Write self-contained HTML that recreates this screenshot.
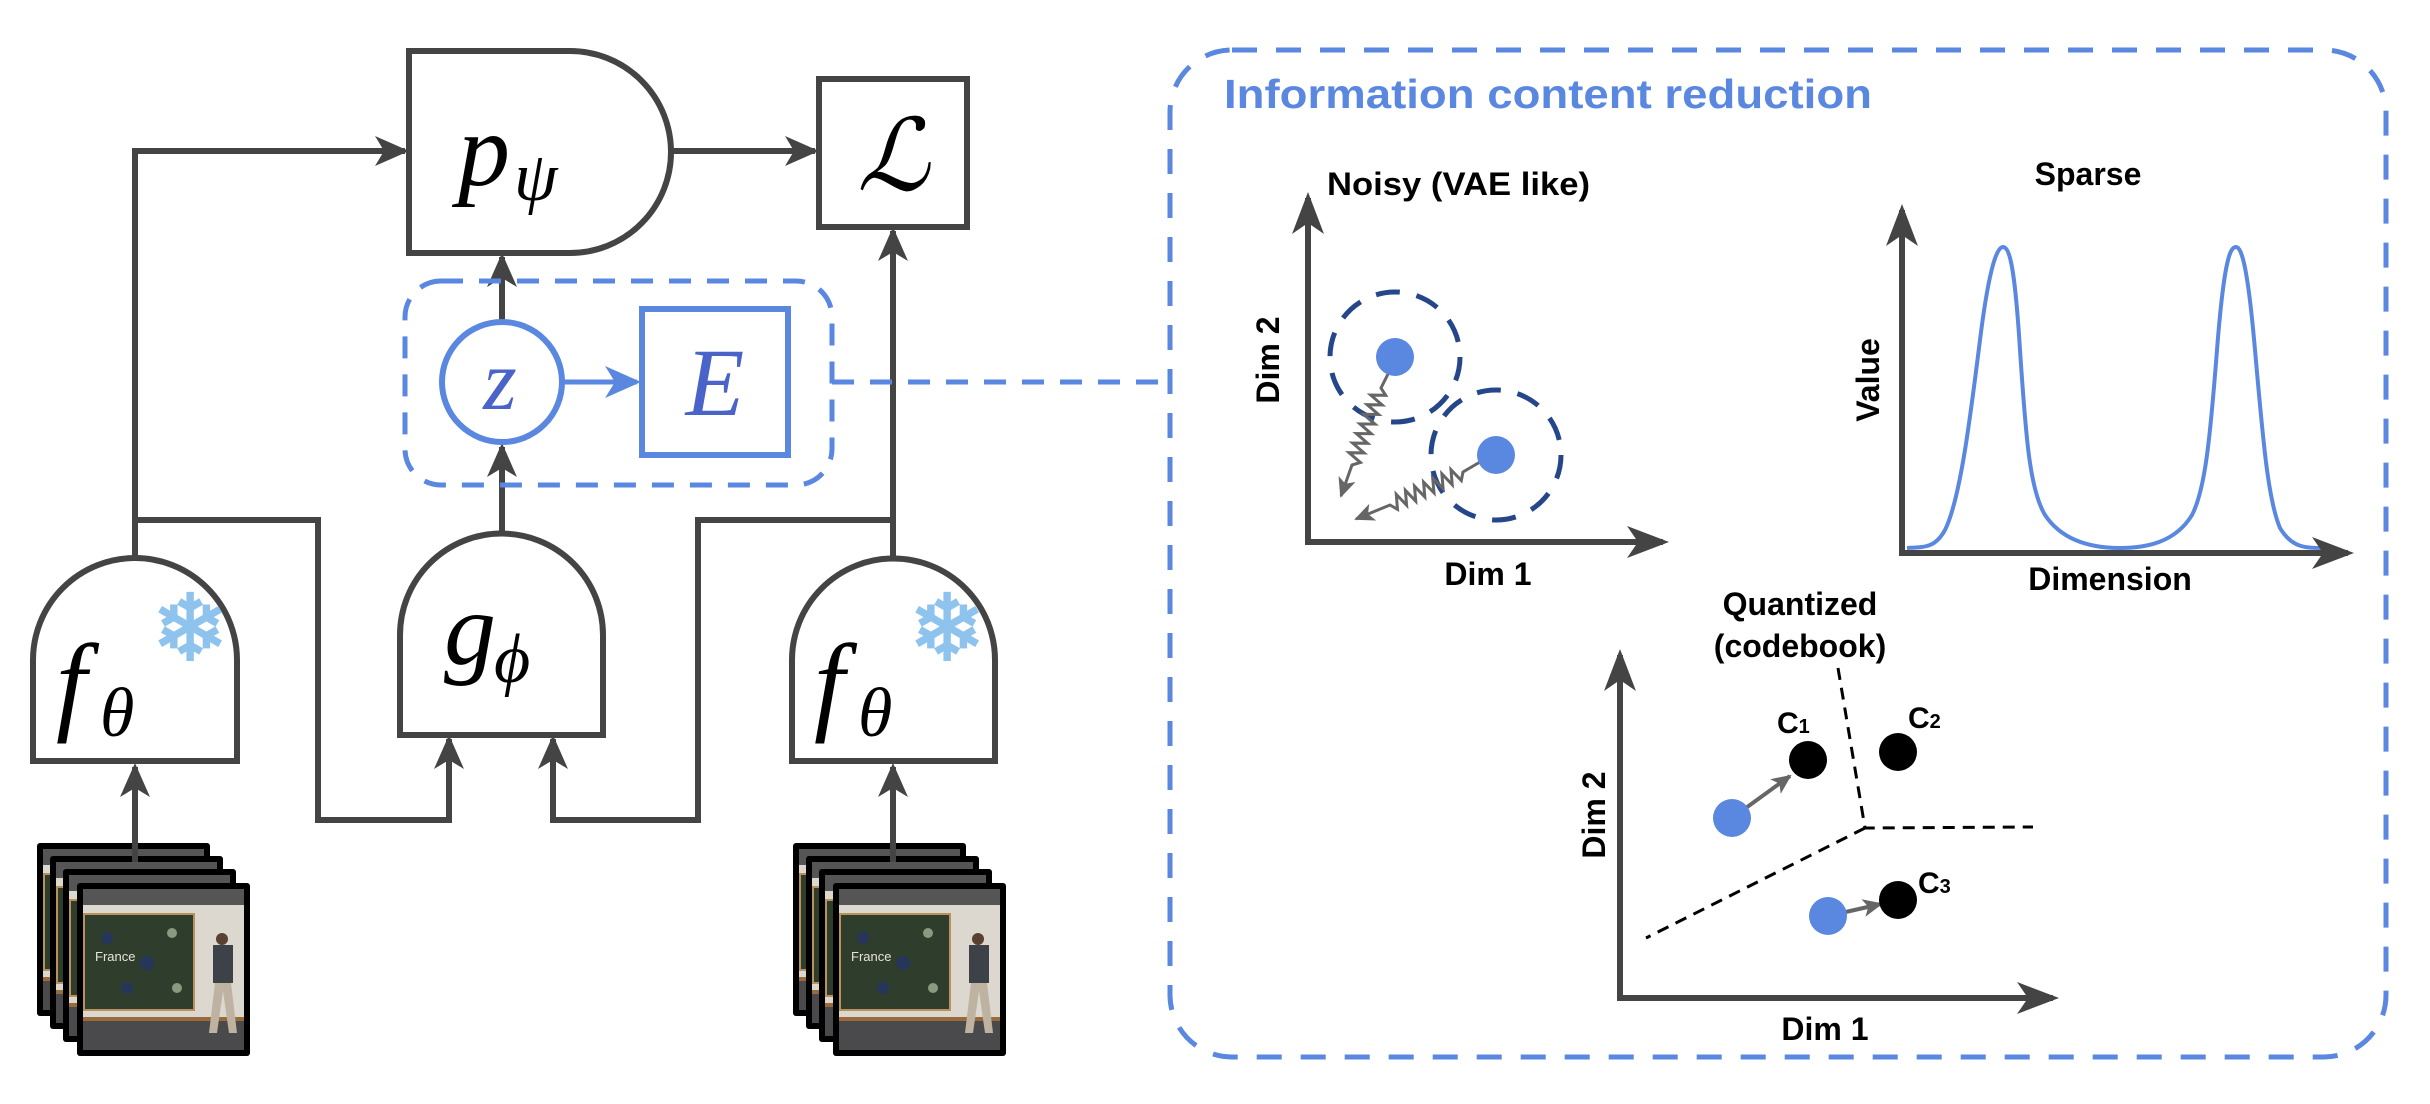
<!DOCTYPE html>
<html><head><meta charset="utf-8"><style>
html,body{margin:0;padding:0;background:#fff;}
svg{display:block;}
.b{font-family:"Liberation Sans",sans-serif;font-weight:bold;fill:#000;}
.m{font-family:"Liberation Serif",serif;font-style:italic;}
</style></head><body>
<svg width="2430" height="1104" viewBox="0 0 2430 1104" xmlns="http://www.w3.org/2000/svg">
<defs>
<marker id="ah" markerUnits="userSpaceOnUse" markerWidth="36" markerHeight="32" refX="30" refY="15" orient="auto"><path d="M0,0 L34,15 L0,30 L9,15 Z" fill="#444"/></marker>
<marker id="ab" markerUnits="userSpaceOnUse" markerWidth="40" markerHeight="34" refX="32" refY="16" orient="auto"><path d="M0,0 L36,16 L0,32 L10,16 Z" fill="#5a87e0"/></marker>
<marker id="ax" markerUnits="userSpaceOnUse" markerWidth="44" markerHeight="34" refX="36" refY="16" orient="auto"><path d="M0,0 L42,16 L0,32 L11,16 Z" fill="#444"/></marker>
<marker id="as" markerUnits="userSpaceOnUse" markerWidth="22" markerHeight="20" refX="18" refY="9" orient="auto"><path d="M0,0 L20,9 L0,18 L5,9 Z" fill="#666"/></marker>
<g id="photo">
<rect x="0" y="0" width="173" height="173" rx="3" fill="#000"/>
<rect x="6" y="6" width="161" height="161" fill="#dcd8cf"/>
<rect x="6" y="6" width="161" height="16" fill="#555"/>
<rect x="6" y="30" width="112" height="98" fill="#b9925a"/>
<rect x="8" y="32" width="108" height="94" fill="#2f3d2c"/>
<circle cx="30" cy="55" r="6" fill="#25365a"/><circle cx="70" cy="80" r="7" fill="#25365a"/><circle cx="95" cy="50" r="5" fill="#8a9a80"/><circle cx="50" cy="105" r="6" fill="#25365a"/><circle cx="100" cy="105" r="5" fill="#8a9a80"/>
<text x="18" y="78" font-family="Liberation Sans,sans-serif" font-size="13" fill="#e8e4dc">France</text>
<rect x="6" y="134" width="161" height="4" fill="#9a6a3a"/>
<rect x="6" y="138" width="161" height="29" fill="#4a4a4c"/>
<circle cx="145" cy="56" r="6" fill="#5a4030"/>
<rect x="136" y="62" width="20" height="38" fill="#3c4248"/>
<path d="M138,100 L132,150 L140,150 L146,108 L152,150 L160,150 L154,100 Z" fill="#bdb3a0"/>
</g>
</defs>

<g fill="none" stroke="#444" stroke-width="6">
<path d="M409,51 H570 A101,101 0 0 1 570,253 H409 Z" fill="#fff"/>
<rect x="819" y="79" width="148" height="148" fill="#fff"/>
<path d="M33,761 V660 A102,102 0 0 1 237,660 V761 Z" fill="#fff"/>
<path d="M400,735 V635 A101.5,101.5 0 0 1 603,635 V735 Z" fill="#fff"/>
<path d="M792,761 V660 A101.5,101.5 0 0 1 995,660 V761 Z" fill="#fff"/>
<path d="M135,559 V151 H405" marker-end="url(#ah)"/>
<path d="M670,151 H815" marker-end="url(#ah)"/>
<path d="M135,520 H318 V820 H449 V739" marker-end="url(#ah)"/>
<path d="M893,559 V231" marker-end="url(#ah)"/>
<path d="M893,520 H698 V820 H553 V739" marker-end="url(#ah)"/>
<path d="M502,534 V447" marker-end="url(#ah)"/>
<path d="M502,321 V257" marker-end="url(#ah)"/>
</g>
<rect x="405" y="281" width="427" height="204" rx="36" fill="none" stroke="#5a87e0" stroke-width="5" stroke-dasharray="22 16"/>
<path d="M832,382 H1170" stroke="#5a87e0" stroke-width="5" stroke-dasharray="22 16" fill="none"/>
<circle cx="502" cy="382" r="60" fill="#fff" stroke="#5a87e0" stroke-width="6"/>
<path d="M562,382 H637" stroke="#5a87e0" stroke-width="5" fill="none" marker-end="url(#ab)"/>
<rect x="642" y="309" width="146" height="146" fill="#fff" stroke="#5a87e0" stroke-width="6"/>
<text x="500" y="409" class="m" font-size="86" fill="#4a63c8" text-anchor="middle">z</text>
<text x="715" y="415" class="m" font-size="96" fill="#4a63c8" text-anchor="middle">E</text>
<text x="458" y="185" class="m" font-size="104" fill="#000">p</text>
<text x="514" y="200" class="m" font-size="70" fill="#000">ψ</text>
<text x="893" y="190" font-family="DejaVu Serif,serif" font-style="italic" font-size="100" fill="#000" text-anchor="middle">ℒ</text>
<text x="444" y="664" class="m" font-size="104" fill="#000">g</text>
<text x="494" y="682" class="m" font-size="70" fill="#000">ϕ</text>
<text x="56" y="720" class="m" font-size="110" fill="#000">f</text>
<text x="100" y="736" class="m" font-size="70" fill="#000">θ</text>
<text x="814" y="720" class="m" font-size="110" fill="#000">f</text>
<text x="858" y="736" class="m" font-size="70" fill="#000">θ</text>
<text x="190" y="660" font-family="DejaVu Sans,sans-serif" font-size="92" fill="#8ec3ee" stroke="#8ec3ee" stroke-width="2" text-anchor="middle">❄</text>
<text x="947" y="660" font-family="DejaVu Sans,sans-serif" font-size="92" fill="#8ec3ee" stroke="#8ec3ee" stroke-width="2" text-anchor="middle">❄</text>

<use href="#photo" x="37" y="843"/>
<use href="#photo" x="50" y="856"/>
<path d="M135,862 V767" stroke="#444" stroke-width="6" marker-end="url(#ah)"/>
<use href="#photo" x="63" y="869"/>
<use href="#photo" x="77" y="883"/>
<use href="#photo" x="793" y="843"/>
<use href="#photo" x="806" y="856"/>
<path d="M893,862 V767" stroke="#444" stroke-width="6" marker-end="url(#ah)"/>
<use href="#photo" x="819" y="869"/>
<use href="#photo" x="833" y="883"/>

<rect x="1170" y="50" width="1216" height="1007" rx="62" fill="none" stroke="#5a87e0" stroke-width="5" stroke-dasharray="25 19"/>
<text x="1224" y="108" class="b" font-size="41" style="fill:#5a87e0" textLength="648" lengthAdjust="spacingAndGlyphs">Information content reduction</text>

<text x="1327" y="195" class="b" font-size="32" textLength="263" lengthAdjust="spacingAndGlyphs">Noisy (VAE like)</text>
<path d="M1308,542 V198" stroke="#444" stroke-width="6" fill="none" marker-end="url(#ax)"/>
<path d="M1305,542 H1663" stroke="#444" stroke-width="6" fill="none" marker-end="url(#ax)"/>
<text transform="translate(1279,360) rotate(-90)" class="b" font-size="32" text-anchor="middle">Dim 2</text>
<text x="1488" y="585" class="b" font-size="32" text-anchor="middle">Dim 1</text>
<circle cx="1395" cy="357" r="65" fill="none" stroke="#26468a" stroke-width="5" stroke-dasharray="24 17"/>
<circle cx="1496" cy="455" r="65" fill="none" stroke="#26468a" stroke-width="5" stroke-dasharray="24 17"/>
<g fill="none" stroke="#666" stroke-width="3">
<polyline points="1389,372 1381,388 1385.7,395.3 1370.8,395.1 1382.1,404.9 1367.2,404.7 1378.5,414.5 1363.6,414.3 1374.9,424.1 1360,423.9 1371.2,433.7 1356.4,433.5 1367.6,443.3 1352.7,443.1 1364,452.9 1349.1,452.7 1360.4,462.5 1352,465 1341,496" marker-end="url(#as)"/>
<polyline points="1480,462 1463,472 1461.3,480.5 1451,469.7 1452.2,484.6 1441.9,473.8 1443.1,488.7 1432.7,478 1434,492.8 1423.6,482.1 1424.8,496.9 1414.5,486.2 1415.7,501.1 1405.4,490.3 1406.6,505.2 1396.3,494.4 1397.5,509.3 1390,505 1356,519" marker-end="url(#as)"/>
</g>
<circle cx="1395" cy="357" r="19" fill="#5a87e0"/>
<circle cx="1496" cy="455" r="19" fill="#5a87e0"/>

<text x="2088" y="185" class="b" font-size="32" text-anchor="middle">Sparse</text>
<path d="M1907,548 C1925,547 1935,548 1945,530 C1960,500 1970,420 1980,340 C1990,260 1998,247 2003,247 C2010,247 2015,270 2020,350 C2026,440 2030,490 2045,515 C2065,545 2100,548 2120,548 C2145,548 2175,543 2192,515 C2205,490 2210,440 2217,350 C2224,260 2230,247 2236,247 C2242,247 2248,270 2255,350 C2263,440 2268,500 2280,528 C2292,548 2305,548 2325,548" fill="none" stroke="#5a87e0" stroke-width="4"/>
<path d="M1902,553 V210" stroke="#444" stroke-width="6" fill="none" marker-end="url(#ax)"/>
<path d="M1899,553 H2348" stroke="#444" stroke-width="6" fill="none" marker-end="url(#ax)"/>
<text transform="translate(1879,380) rotate(-90)" class="b" font-size="32" text-anchor="middle">Value</text>
<text x="2110" y="590" class="b" font-size="32" text-anchor="middle">Dimension</text>

<text x="1800" y="615" class="b" font-size="32" text-anchor="middle">Quantized</text>
<text x="1800" y="657" class="b" font-size="32" text-anchor="middle">(codebook)</text>
<path d="M1620,998 V655" stroke="#444" stroke-width="6" fill="none" marker-end="url(#ax)"/>
<path d="M1617,998 H2053" stroke="#444" stroke-width="6" fill="none" marker-end="url(#ax)"/>
<text transform="translate(1605,815) rotate(-90)" class="b" font-size="32" text-anchor="middle">Dim 2</text>
<text x="1825" y="1040" class="b" font-size="32" text-anchor="middle">Dim 1</text>
<g fill="none" stroke="#000" stroke-width="3" stroke-dasharray="12 8">
<path d="M1838,668 L1865,828 L2033,827"/>
<path d="M1865,828 L1646,938"/>
</g>
<path d="M1732,818 L1790,776" stroke="#666" stroke-width="4" fill="none" marker-end="url(#as)"/>
<path d="M1828,916 L1881,904" stroke="#666" stroke-width="4" fill="none" marker-end="url(#as)"/>
<circle cx="1732" cy="818" r="19" fill="#5a87e0"/>
<circle cx="1828" cy="916" r="19" fill="#5a87e0"/>
<circle cx="1808" cy="760" r="19" fill="#000"/>
<circle cx="1898" cy="752" r="19" fill="#000"/>
<circle cx="1898" cy="900" r="19" fill="#000"/>
<text x="1777" y="733" class="b" font-size="30">C<tspan font-size="20">1</tspan></text>
<text x="1908" y="728" class="b" font-size="30">C<tspan font-size="20">2</tspan></text>
<text x="1918" y="893" class="b" font-size="30">C<tspan font-size="20">3</tspan></text>
</svg>
</body></html>
